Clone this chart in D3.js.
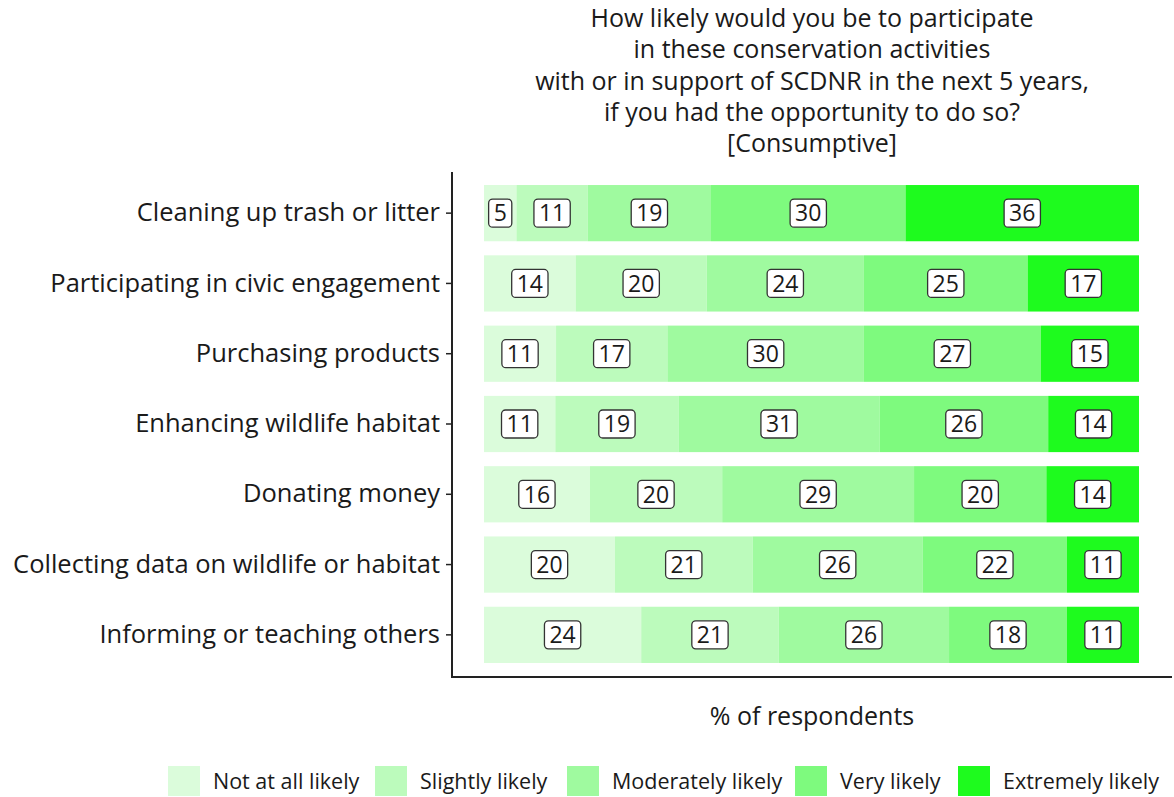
<!DOCTYPE html>
<html>
<head>
<meta charset="utf-8">
<script src="https://cdn.jsdelivr.net/npm/d3@7"></script>
<style>
  body { margin: 0; background: #fff; }
  text { font-family: "Open Sans", sans-serif; fill: #1a1a1a; }
</style>
</head>
<body>
<svg id="chart" width="1174" height="797"></svg>
<script>
// categories, top to bottom
const activities = [
  "Cleaning up trash or litter",
  "Participating in civic engagement",
  "Purchasing products",
  "Enhancing wildlife habitat",
  "Donating money",
  "Collecting data on wildlife or habitat",
  "Informing or teaching others"
];

const levels = ["Not at all likely", "Slightly likely", "Moderately likely", "Very likely", "Extremely likely"];

// % of respondents per level, same order as activities
const notAtAll   = [5, 14, 11, 11, 16, 20, 24];
const slightly   = [11, 20, 17, 19, 20, 21, 21];
const moderately = [19, 24, 30, 31, 29, 26, 26];
const very       = [30, 25, 27, 26, 20, 22, 18];
const extremely  = [36, 17, 15, 14, 14, 11, 11];

const colours = ["#dbfcdb", "#bcfbbc", "#9ffa9f", "#7efa7e", "#1efb1e"];

const titleLines = [
  "How likely would you be to participate",
  "in these conservation activities",
  "with or in support of SCDNR in the next 5 years,",
  "if you had the opportunity to do so?",
  "[Consumptive]"
];

const series = [notAtAll, slightly, moderately, very, extremely];

// build rows, each row normalised to 100 so all bars end together
const rows = activities.map((a, i) => {
  const vals = series.map(s => s[i]);
  const total = d3.sum(vals);
  let acc = 0;
  const segs = vals.map((v, j) => {
    const seg = { level: levels[j], value: v, x0: acc / total * 100, x1: (acc + v) / total * 100 };
    acc += v;
    return seg;
  });
  return { activity: a, segs };
});

const svg = d3.select("#chart");

const axisLeft = 452, axisBottom = 677;

const x = d3.scaleLinear().domain([0, 100]).range([484, 1139]);
const y = d3.scaleBand().domain(activities).range([178, 670]).paddingInner(0.2).paddingOuter(0.1);

const colour = d3.scaleOrdinal().domain(levels).range(colours);

// title
svg.append("g").selectAll("text")
  .data(titleLines)
  .join("text")
  .attr("x", 812)
  .attr("y", (d, i) => 27 + i * 31.3)
  .attr("text-anchor", "middle")
  .style("font-size", "25px")
  .text(d => d);

// bars
const rowG = svg.append("g").selectAll("g")
  .data(rows)
  .join("g")
  .attr("transform", d => `translate(0,${y(d.activity)})`);

rowG.selectAll("rect")
  .data(d => d.segs)
  .join("rect")
  .attr("x", d => x(d.x0))
  .attr("width", d => x(d.x1) - x(d.x0))
  .attr("height", y.bandwidth())
  .attr("fill", d => colour(d.level));

// value labels
const lab = rowG.selectAll("g.lab")
  .data(d => d.segs)
  .join("g")
  .attr("class", "lab")
  .attr("transform", d => `translate(${(x(d.x0) + x(d.x1)) / 2},${y.bandwidth() / 2})`);

lab.append("text")
  .attr("text-anchor", "middle")
  .attr("dy", "0.36em")
  .style("font-size", "23px")
  .text(d => d.value)
  .each(function() {
    const b = this.getBBox();
    d3.select(this.parentNode).insert("rect", "text")
      .attr("x", -b.width / 2 - 5)
      .attr("y", -14)
      .attr("width", b.width + 10)
      .attr("height", 28)
      .attr("rx", 4)
      .attr("fill", "#fff")
      .attr("stroke", "#333")
      .attr("stroke-width", 1.3);
  });

// y axis
const yAxis = svg.append("g")
  .attr("transform", `translate(${axisLeft},0)`)
  .call(d3.axisLeft(y).tickSize(6).tickPadding(6).tickSizeOuter(0));
yAxis.select(".domain").remove();
yAxis.selectAll(".tick line").attr("stroke", "#222").attr("stroke-width", 1.5);
yAxis.selectAll(".tick text").style("font-size", "25.5px").attr("fill", "#1a1a1a").style("font-family", "'Open Sans', sans-serif");

// axis lines
svg.append("line")
  .attr("x1", axisLeft).attr("x2", axisLeft)
  .attr("y1", 172).attr("y2", axisBottom)
  .attr("stroke", "#222").attr("stroke-width", 2);
svg.append("line")
  .attr("x1", axisLeft - 1).attr("x2", 1172)
  .attr("y1", axisBottom).attr("y2", axisBottom)
  .attr("stroke", "#222").attr("stroke-width", 2);

// x title
svg.append("text")
  .attr("x", 812).attr("y", 725)
  .attr("text-anchor", "middle")
  .style("font-size", "25px")
  .text("% of respondents");

// legend
const legendX = [168, 375, 567, 795, 958];
const leg = svg.append("g").selectAll("g")
  .data(levels)
  .join("g")
  .attr("transform", (d, i) => `translate(${legendX[i]},766)`);
leg.append("rect")
  .attr("width", 32).attr("height", 30)
  .attr("fill", d => colour(d));
leg.append("text")
  .attr("x", 45).attr("y", 15).attr("dy", "0.35em")
  .style("font-size", "21.5px")
  .text(d => d);
</script>
</body>
</html>
